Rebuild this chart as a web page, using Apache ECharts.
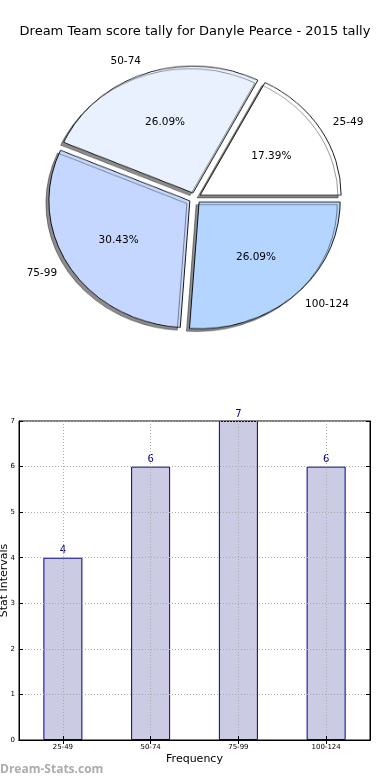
<!DOCTYPE html>
<html>
<head>
<meta charset="utf-8">
<script src="https://cdn.jsdelivr.net/npm/echarts@6/dist/echarts.min.js"></script>
<style>
html,body{margin:0;padding:0;background:#fff}
#wrap{position:relative;width:390px;height:780px;overflow:hidden}
#p{position:absolute;left:0;top:0;width:390px;height:400px;transform-origin:195px 198px;transform:scale(1,0.9)}
#c{position:absolute;left:0;top:0;width:390px;height:780px}
</style>
</head>
<body>
<div id="wrap"><div id="p"></div><div id="c"></div></div>
<script>
var titleText = 'Dream Team score tally for Danyle Pearce - 2015 tally';
var categories = ['25-49', '50-74', '75-99', '100-124'];
var counts = [4, 6, 7, 6];
var pieColors = ['#ffffff', '#eaf1fe', '#c5d7fe', '#b3d5ff'];
var yTicks = [0, 1, 2, 3, 4, 5, 6, 7];
var xAxisName = 'Frequency';
var yAxisName = 'Stat Intervals';
var watermark = 'Dream-Stats.com';

var total = counts.reduce(function (a, b) { return a + b; }, 0);
var FONT = 'DejaVu Sans';
var RX = 141;          // horizontal radius
var SY = 0.9;          // vertical squash of the pie (matplotlib non-equal aspect)
var CX = 195, CY = 198;
var OFF = 6;
var LABEL_FS = 10.5;

var mctx = document.createElement('canvas').getContext('2d');
mctx.font = LABEL_FS + 'px "' + FONT + '"';
function textW(s) { return mctx.measureText(s).width; }

function midAngle(i) {
  var before = 0;
  for (var k = 0; k < i; k++) before += counts[k];
  return (before + counts[i] / 2) / total * 2 * Math.PI;
}
function pct(i) { return (counts[i] / total * 100).toFixed(2) + '%'; }
function pieData(withStyle, labelFn) {
  return categories.map(function (c, i) {
    var d = { name: c, value: counts[i], selected: true };
    if (withStyle) d.itemStyle = { color: pieColors[i] };
    if (labelFn) d.label = labelFn(i);
    return d;
  });
}
// moves an inside label onto the squashed pie (+ optional left/right alignment like matplotlib)
function labelPlace(i, dist, text, alignSide) {
  var a = midAngle(i);
  var dy = (dist + OFF) * Math.sin(a) * (1 - SY); // >0: move down (toward centre)
  var lh = Math.max(2 * Math.abs(dy), 1);
  var fmt = dy > 0 ? '\n' + text : text + '\n';
  var pl = 0, pr = 0;
  if (alignSide) {
    var w = textW(text);
    if (Math.cos(a) >= 0) pl = w; else pr = w;
  }
  return { formatter: fmt, lineHeight: lh, padding: [0, pr, 0, pl] };
}

// slices (drawn in a vertically squashed layer)
var pie = echarts.init(document.getElementById('p'), null, { renderer: 'canvas' });
pie.setOption({
  animation: false,
  series: [{
    type: 'pie',
    center: [CX, CY],
    radius: [0, RX],
    startAngle: 0,
    clockwise: false,
    selectedMode: 'multiple',
    selectedOffset: OFF,
    silent: true,
    label: { show: false },
    labelLine: { show: false },
    itemStyle: {
      borderColor: '#000', borderWidth: 0.9,
      shadowColor: 'rgba(0,0,0,0.45)', shadowBlur: 0, shadowOffsetX: -3, shadowOffsetY: 3
    },
    emphasis: { disabled: true },
    data: pieData(true)
  }]
});

var PCT_D = 0.57 * RX, NAME_D = 1.08 * RX;
var chart = echarts.init(document.getElementById('c'), null, { renderer: 'canvas' });
chart.setOption({
  animation: false,
  backgroundColor: 'transparent',
  title: {
    text: titleText,
    left: 'center',
    top: 20,
    textStyle: { fontFamily: FONT, fontSize: 13, fontWeight: 'normal', color: '#000' }
  },
  graphic: [{
    type: 'text',
    left: 0,
    top: 764,
    style: { text: watermark, fontFamily: 'Open Sans', fontSize: 12, fontWeight: 'bold', fill: '#acacac' }
  }],
  grid: {
    left: 19, right: 20, top: 421, bottom: 40,
    containLabel: false,
    outerBoundsMode: 'none',
    show: true, borderColor: '#000', borderWidth: 1, backgroundColor: 'transparent'
  },
  xAxis: [{
    type: 'category',
    data: categories,
    z: 10,
    name: xAxisName,
    nameLocation: 'middle',
    nameGap: 14,
    nameMoveOverlap: false,
    nameTextStyle: { fontFamily: FONT, fontSize: 11, color: '#000' },
    axisLine: { lineStyle: { color: '#000', width: 1 } },
    axisTick: { show: true, inside: true, alignWithLabel: true, length: 4, lineStyle: { color: '#000' } },
    axisLabel: { fontFamily: FONT, fontSize: 7, color: '#000', margin: 4 },
    splitLine: { show: true, alignWithLabel: true, lineStyle: { color: '#aaa', type: [1, 2], width: 1 } }
  }, {
    type: 'category',
    data: categories,
    position: 'top',
    z: 10,
    axisLine: { show: true, lineStyle: { color: '#000', width: 1 } },
    axisTick: { show: true, inside: true, alignWithLabel: true, length: 4, lineStyle: { color: '#000' } },
    axisLabel: { show: false },
    splitLine: { show: false }
  }],
  yAxis: [{
    type: 'value',
    min: yTicks[0],
    max: yTicks[yTicks.length - 1],
    interval: 1,
    z: 10,
    name: yAxisName,
    nameLocation: 'middle',
    nameGap: 9,
    nameMoveOverlap: false,
    nameTextStyle: { fontFamily: FONT, fontSize: 11, color: '#000' },
    axisLine: { show: true, lineStyle: { color: '#000', width: 1 } },
    axisTick: { show: true, inside: true, length: 4, lineStyle: { color: '#000' } },
    axisLabel: { fontFamily: FONT, fontSize: 7, color: '#000', margin: 4 },
    splitLine: { show: true, lineStyle: { color: '#aaa', type: [1, 2], width: 1 } }
  }, {
    type: 'value',
    position: 'right',
    min: yTicks[0],
    max: yTicks[yTicks.length - 1],
    interval: 1,
    z: 10,
    axisLine: { show: true, lineStyle: { color: '#000', width: 1 } },
    axisTick: { show: true, inside: true, length: 4, lineStyle: { color: '#000' } },
    axisLabel: { show: false },
    splitLine: { show: false }
  }],
  series: [
    {
      type: 'pie',
      center: [CX, CY],
      radius: [0, PCT_D * 2],
      startAngle: 0,
      clockwise: false,
      selectedMode: 'multiple',
      selectedOffset: OFF,
      silent: true,
      itemStyle: { color: 'rgba(0,0,0,0)', borderWidth: 0 },
      label: { show: true, position: 'inside', fontFamily: FONT, fontSize: LABEL_FS, color: '#000' },
      labelLine: { show: false },
      emphasis: { disabled: true },
      data: pieData(false, function (i) { return labelPlace(i, PCT_D, pct(i), false); })
    },
    {
      type: 'pie',
      center: [CX, CY],
      radius: [0, NAME_D * 2],
      startAngle: 0,
      clockwise: false,
      selectedMode: 'multiple',
      selectedOffset: OFF,
      silent: true,
      itemStyle: { color: 'rgba(0,0,0,0)', borderWidth: 0 },
      label: { show: true, position: 'inside', fontFamily: FONT, fontSize: LABEL_FS, color: '#000' },
      labelLine: { show: false },
      emphasis: { disabled: true },
      data: pieData(false, function (i) { return labelPlace(i, NAME_D, categories[i], true); })
    },
    {
      type: 'bar',
      data: counts,
      barWidth: 39,
      z: 2,
      itemStyle: { color: '#cbcbe4', borderColor: '#00008b', borderWidth: 1 },
      label: {
        show: true, position: 'top', distance: 2,
        fontFamily: FONT, fontSize: 10, color: '#00008b'
      },
      emphasis: { disabled: true }
    }
  ]
});
</script>
</body>
</html>
